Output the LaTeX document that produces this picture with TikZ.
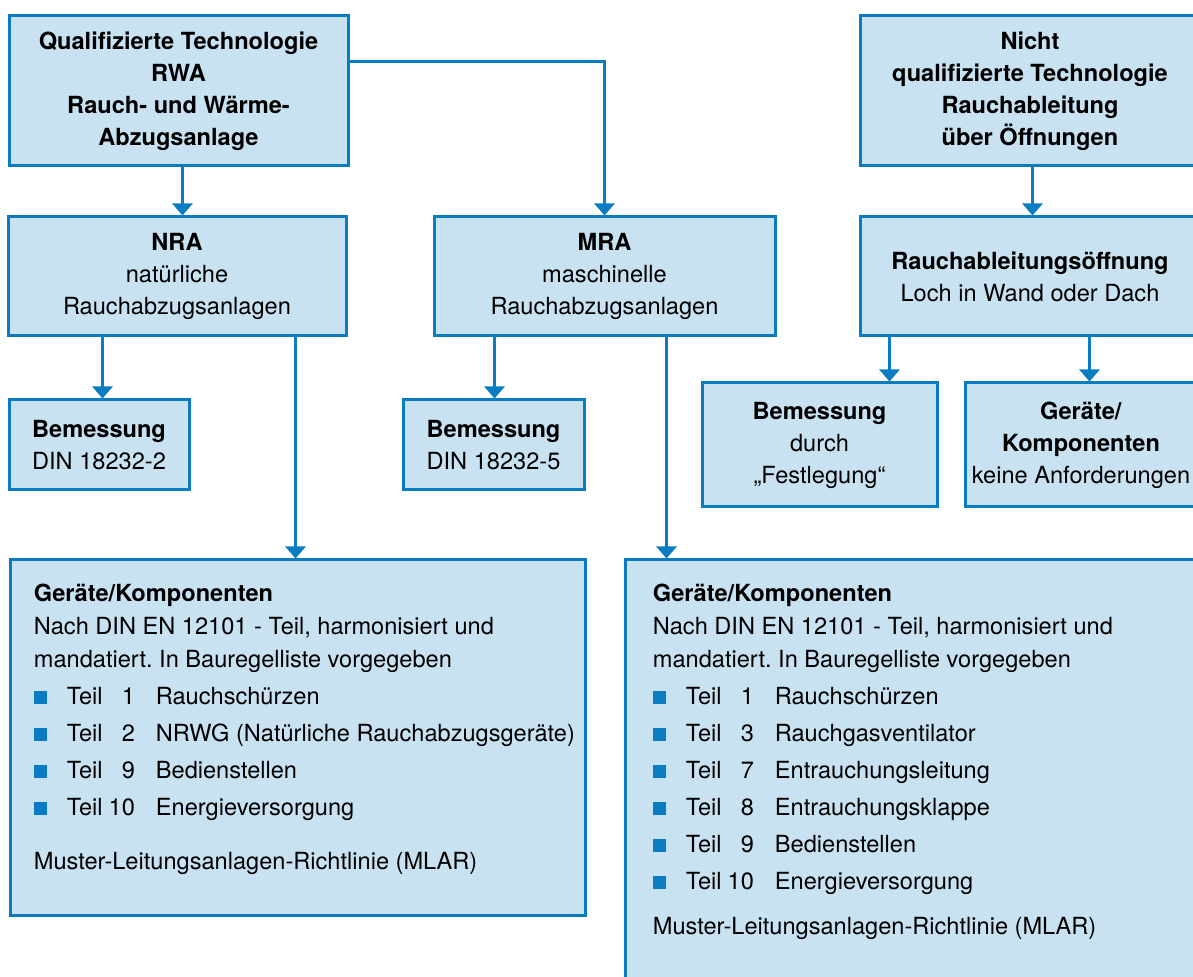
\documentclass[tikz,border=0pt]{standalone}
\usepackage{fontspec}
\setmainfont{TeX Gyre Heros}
\usepackage{xcolor}
\usepackage{tikz}
\usetikzlibrary{arrows.meta, positioning}

\definecolor{rwablue}{HTML}{0A7DC2}
\definecolor{rwafill}{HTML}{C8E2F1}

\frenchspacing
\newcommand{\teilitem}[2]{\makebox[16.5pt][l]{\textcolor{rwablue}{\rule{6.5pt}{6.5pt}}}\makebox[19pt][l]{Teil}\makebox[15pt][r]{#1}\hspace{10.5pt}#2}

\begin{document}
\begin{tikzpicture}[x=0.5pt,y=-0.5pt,
                    box/.style={draw=rwablue,fill=rwafill,line width=1.5pt,align=center,inner sep=0pt,
                                font=\fontsize{11.8}{16}\selectfont},
                    bodytext/.style={align=left,inner sep=0pt,anchor=north west,font=\fontsize{11.8}{16.5}\selectfont},
                    arr/.style={draw=rwablue,line width=1.5pt,-{Triangle[width=10pt,length=6pt]}}]

  \useasboundingbox (0,0) rectangle (1193,977);
  \clip (0,0) rectangle (1193,977);

  % top row
  \node[box,minimum width=169.5pt,minimum height=75pt] (Q) at (178.5,91)
    {\textbf{Qualifizierte Technologie}\\\textbf{RWA}\\\textbf{Rauch- und Wärme-}\\\textbf{Abzugsanlage}};
  \node[box,minimum width=170pt,minimum height=75pt] (Nicht) at (1030,91)
    {\textbf{Nicht}\\\textbf{qualifizierte Technologie}\\\textbf{Rauchableitung}\\\textbf{über Öffnungen}};

  % second row
  \node[box,minimum width=169pt,minimum height=59.5pt] (NRA) at (177,276.5)
    {\textbf{NRA}\\natürliche\\Rauchabzugsanlagen};
  \node[box,minimum width=170.5pt,minimum height=59.5pt] (MRA) at (604.5,276.5)
    {\textbf{MRA}\\maschinelle\\Rauchabzugsanlagen};
  \node[box,minimum width=170pt,minimum height=59.5pt] (Rauchab) at (1030,276.5)
    {\textbf{Rauchableitungsöffnung}\\Loch in Wand oder Dach};

  % third row
  \node[box,minimum width=90pt,minimum height=45pt] (BemNRA) at (99,445)
    {\textbf{Bemessung}\\DIN 18232-2};
  \node[box,minimum width=90.5pt,minimum height=45pt] (BemMRA) at (493.5,445)
    {\textbf{Bemessung}\\DIN 18232-5};
  \node[box,minimum width=117.5pt,minimum height=62pt] (BemDurch) at (819.5,445)
    {\textbf{Bemessung}\\durch\\„Festlegung“};
  \node[box,minimum width=116pt,minimum height=62pt] (GerRight) at (1081,445)
    {\textbf{Geräte/}\\\textbf{Komponenten}\\keine Anforderungen};

  % bottom row
  \node[box,minimum width=287.5pt,minimum height=177.5pt] (GerNRA) at (297.5,737.5) {};
  \node[box,minimum width=312.5pt,minimum height=225pt] (GerMRA) at (937.5,785) {};

  \node[bodytext] (GerNRAtext) at ([xshift=12.5pt,yshift=-12.5pt]GerNRA.north west)
    {\textbf{Geräte/Komponenten}\\
     Nach DIN EN 12101 - Teil, harmonisiert und\\
     mandatiert. In Bauregelliste vorgegeben\\[2pt]
     \teilitem{1}{Rauchschürzen}\\[2pt]
     \teilitem{2}{NRWG (Natürliche Rauchabzugsgeräte)}\\[2pt]
     \teilitem{9}{Bedienstellen}\\[2pt]
     \teilitem{10}{Energieversorgung}\\[10.5pt]
     Muster-Leitungsanlagen-Richtlinie (MLAR)};
  \node[bodytext] (GerMRAtext) at ([xshift=14.5pt,yshift=-12.5pt]GerMRA.north west)
    {\textbf{Geräte/Komponenten}\\
     Nach DIN EN 12101 - Teil, harmonisiert und\\
     mandatiert. In Bauregelliste vorgegeben\\[2pt]
     \teilitem{1}{Rauchschürzen}\\[2pt]
     \teilitem{3}{Rauchgasventilator}\\[2pt]
     \teilitem{7}{Entrauchungsleitung}\\[2pt]
     \teilitem{8}{Entrauchungsklappe}\\[2pt]
     \teilitem{9}{Bedienstellen}\\[2pt]
     \teilitem{10}{Energieversorgung}\\[6pt]
     Muster-Leitungsanlagen-Richtlinie (MLAR)};

  % connectors
  \coordinate (qleg) at ([xshift=2pt]Q.south);
  \coordinate (nleg1) at ([xshift=48pt]NRA.south west);
  \coordinate (nleg2) at ([xshift=144.5pt]NRA.south west);
  \coordinate (mleg1) at ([xshift=31pt]MRA.south west);
  \coordinate (mleg2) at ([xshift=117pt]MRA.south west);
  \coordinate (oleg) at ([xshift=87pt]Nicht.south west);
  \coordinate (rleg1) at ([xshift=15.5pt]Rauchab.south west);
  \coordinate (rleg2) at ([xshift=115.5pt]Rauchab.south west);

  \draw[arr] (qleg) -- (qleg |- NRA.north);
  \draw[arr] ([yshift=14.5pt]Q.east) -| (MRA.north);
  \draw[arr] (nleg1) -- (nleg1 |- BemNRA.north);
  \draw[arr] (nleg2) -- (nleg2 |- GerNRA.north);
  \draw[arr] (mleg1) -- (mleg1 |- BemMRA.north);
  \draw[arr] (mleg2) -- (mleg2 |- GerMRA.north);
  \draw[arr] (oleg) -- (oleg |- Rauchab.north);
  \draw[arr] (rleg1) -- (rleg1 |- BemDurch.north);
  \draw[arr] (rleg2) -- (rleg2 |- GerRight.north);

\end{tikzpicture}
\end{document}
